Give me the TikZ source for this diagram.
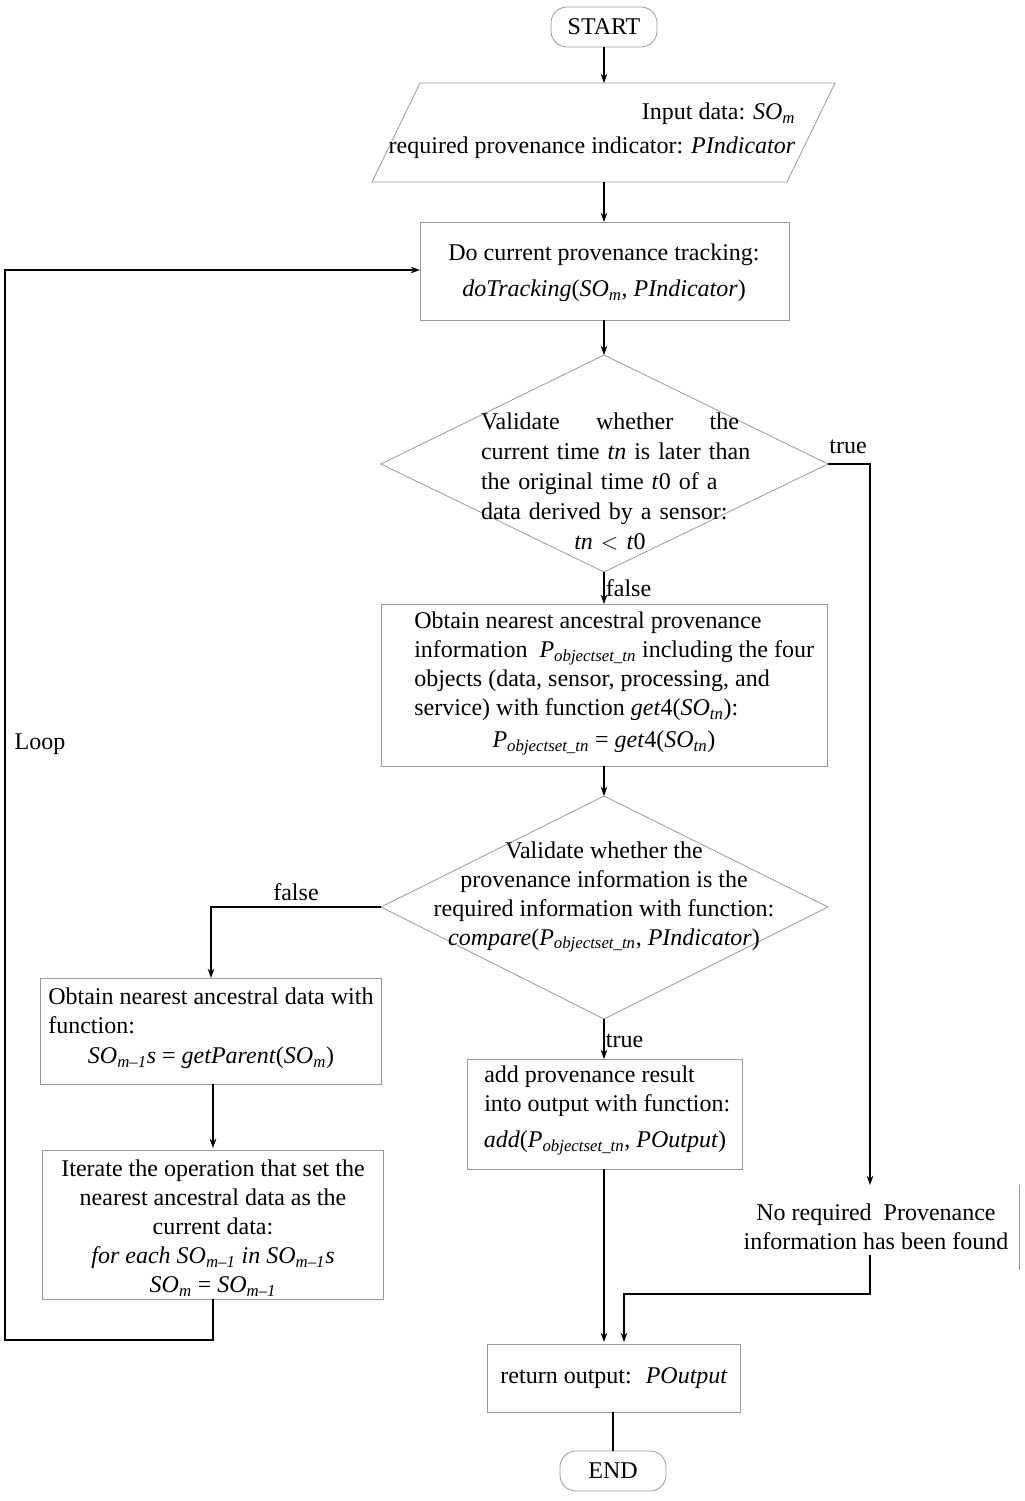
\documentclass[tikz,border=0pt]{standalone}
\usepackage{fontspec}
\setmainfont{Liberation Serif}
\usetikzlibrary{arrows.meta,shapes.geometric}
\newcommand{\vi}[1]{\textit{#1}}
\begin{document}
\begin{tikzpicture}[x=0.75pt,y=-0.75pt,
  every node/.style={font=\fontsize{18}{21.75}\selectfont},
  box/.style={draw=gray!80,line width=0.6pt},
  ln/.style={line width=0.8pt},
  ar/.style={ln,-{Stealth[length=7pt,width=5pt]}},
  lab/.style={inner sep=1pt}]
\useasboundingbox (0,0) rectangle (1024,1501);
\node[box,rounded corners=12pt,minimum width=106*0.75pt,minimum height=40*0.75pt] (start) at (604,27) {START};
\draw[box] (420,83) -- (835,83) -- (787,182) -- (372,182) -- cycle;
\node[align=right,anchor=east,font=\fontsize{18}{25.5}\selectfont] (in) at (800,131) {Input data: \vi{SO\textsubscript{m}}\\required provenance indicator: \vi{PIndicator}};
\coordinate (inT) at (604,83); \coordinate (inB) at (604,182);
\draw[box] (420,222) rectangle (789,320);
\node[align=center,font=\fontsize{18}{27}\selectfont] (do) at (604,273) {Do current provenance tracking:\\ \vi{doTracking}(\vi{SO\textsubscript{m}}, \vi{PIndicator})};
\coordinate (doT) at (604,222); \coordinate (doB) at (604,320); \coordinate (doW) at (420,270);
\draw[box] (604,355) -- (828,464) -- (604,572) -- (381,464) -- cycle;
\node[align=left,text width=258*0.75pt,inner sep=0pt,font=\fontsize{18}{22.5}\selectfont] (d1) at (610,481) {\makebox[\linewidth][s]{Validate\hfill whether\hfill the}\\ \makebox[\linewidth][s]{current time \vi{tn} is later than}\\ \makebox[\linewidth][s]{the original time \vi{t}0 of a}\\ data derived by a sensor:\\ \makebox[\linewidth]{\vi{tn} $<$ \vi{t}0}};
\coordinate (d1T) at (604,355); \coordinate (d1B) at (604,572); \coordinate (d1E) at (828,464);
\draw[box] (381,604) rectangle (827,766);
\node[align=left,anchor=north west,inner sep=0pt] (ob) at (414,612) {Obtain nearest ancestral provenance\\ information \ \vi{P\textsubscript{objectset\_tn}} including the four\\ objects (data, sensor, processing, and\\ service) with function \vi{get}4(\vi{SO\textsubscript{tn}}):};
\node (obf) at (604,743) {\vi{P\textsubscript{objectset\_tn}} = \vi{get}4(\vi{SO\textsubscript{tn}})};
\coordinate (obT) at (604,604); \coordinate (obB) at (604,766);
\draw[box] (604,796) -- (828,907) -- (604,1019) -- (381,907) -- cycle;
\node[align=center] (d2) at (604,897) {Validate whether the\\ provenance information is the\\ required information with function:\\ \vi{compare}(\vi{P\textsubscript{objectset\_tn}}, \vi{PIndicator})};
\coordinate (d2T) at (604,796); \coordinate (d2B) at (604,1019); \coordinate (d2W) at (381,907);
\draw[box] (40,978) rectangle (381,1084);
\node[align=left,anchor=north west,inner sep=0pt] (an) at (48,988) {Obtain nearest ancestral data with\\ function:};
\node (anf) at (211,1058) {\vi{SO\textsubscript{m--1}s} = \vi{getParent}(\vi{SO\textsubscript{m}})};
\coordinate (anT) at (211,978); \coordinate (anB) at (213,1084);
\draw[box] (42,1150) rectangle (383,1299);
\node[align=center] (it) at (213,1228) {Iterate the operation that set the\\ nearest ancestral data as the\\ current data:\\ \vi{for each SO\textsubscript{m--1} in SO\textsubscript{m--1}s}\\ \vi{SO\textsubscript{m}} = \vi{SO\textsubscript{m--1}}};
\coordinate (itT) at (213,1148); \coordinate (itB) at (213,1299);
\draw[box] (467,1059) rectangle (742,1169);
\node[align=left,anchor=north west,inner sep=0pt] (add) at (484,1066) {add provenance result\\ into output with function:};
\node (addf) at (605,1143) {\vi{add}(\vi{P\textsubscript{objectset\_tn}}, \vi{POutput})};
\coordinate (addT) at (604,1059); \coordinate (addB) at (604,1169);
\node[align=center] (no) at (876,1227) {No required \ Provenance\\ information has been found};
\draw[box] (1019,1185) -- (1019,1270);
\coordinate (noT) at (870,1185); \coordinate (noB) at (870,1255);
\draw[box] (487,1344) rectangle (740,1412);
\node (ret) at (614,1378) {return output: \ \vi{POutput}};
\coordinate (retB) at (613,1412);
\node[box,rounded corners=12pt,minimum width=106*0.75pt,minimum height=40*0.75pt] (end) at (613,1471) {END};
\draw[ar] (start) -- (inT);
\draw[ar] (inB) -- (doT);
\draw[ar] (doB) -- (d1T);
\draw[ar] (d1B) -- (obT) node[pos=0.5,right,lab] {false};
\draw[ar] (d1E) -- (870,464) -- (noT);
\node at (848,447) {true};
\draw[ar] (obB) -- (d2T);
\draw[ar] (d2W) -- (211,907) -- (anT);
\node at (296,892) {false};
\draw[ar] (d2B) -- (addT) node[pos=0.55,right,lab] {true};
\draw[ar] (anB) -- (itT);
\draw[ar] (itB) -- (213,1340) -- (5,1340) -- (5,270) -- (doW);
\node at (40,744) {Loop};
\draw[ar] (addB) -- (604,1342);
\draw[ar] (noB) -- (870,1294) -- (624,1294) -- (624,1342);
\draw[ln] (retB) -- (end);
\end{tikzpicture}
\end{document}
